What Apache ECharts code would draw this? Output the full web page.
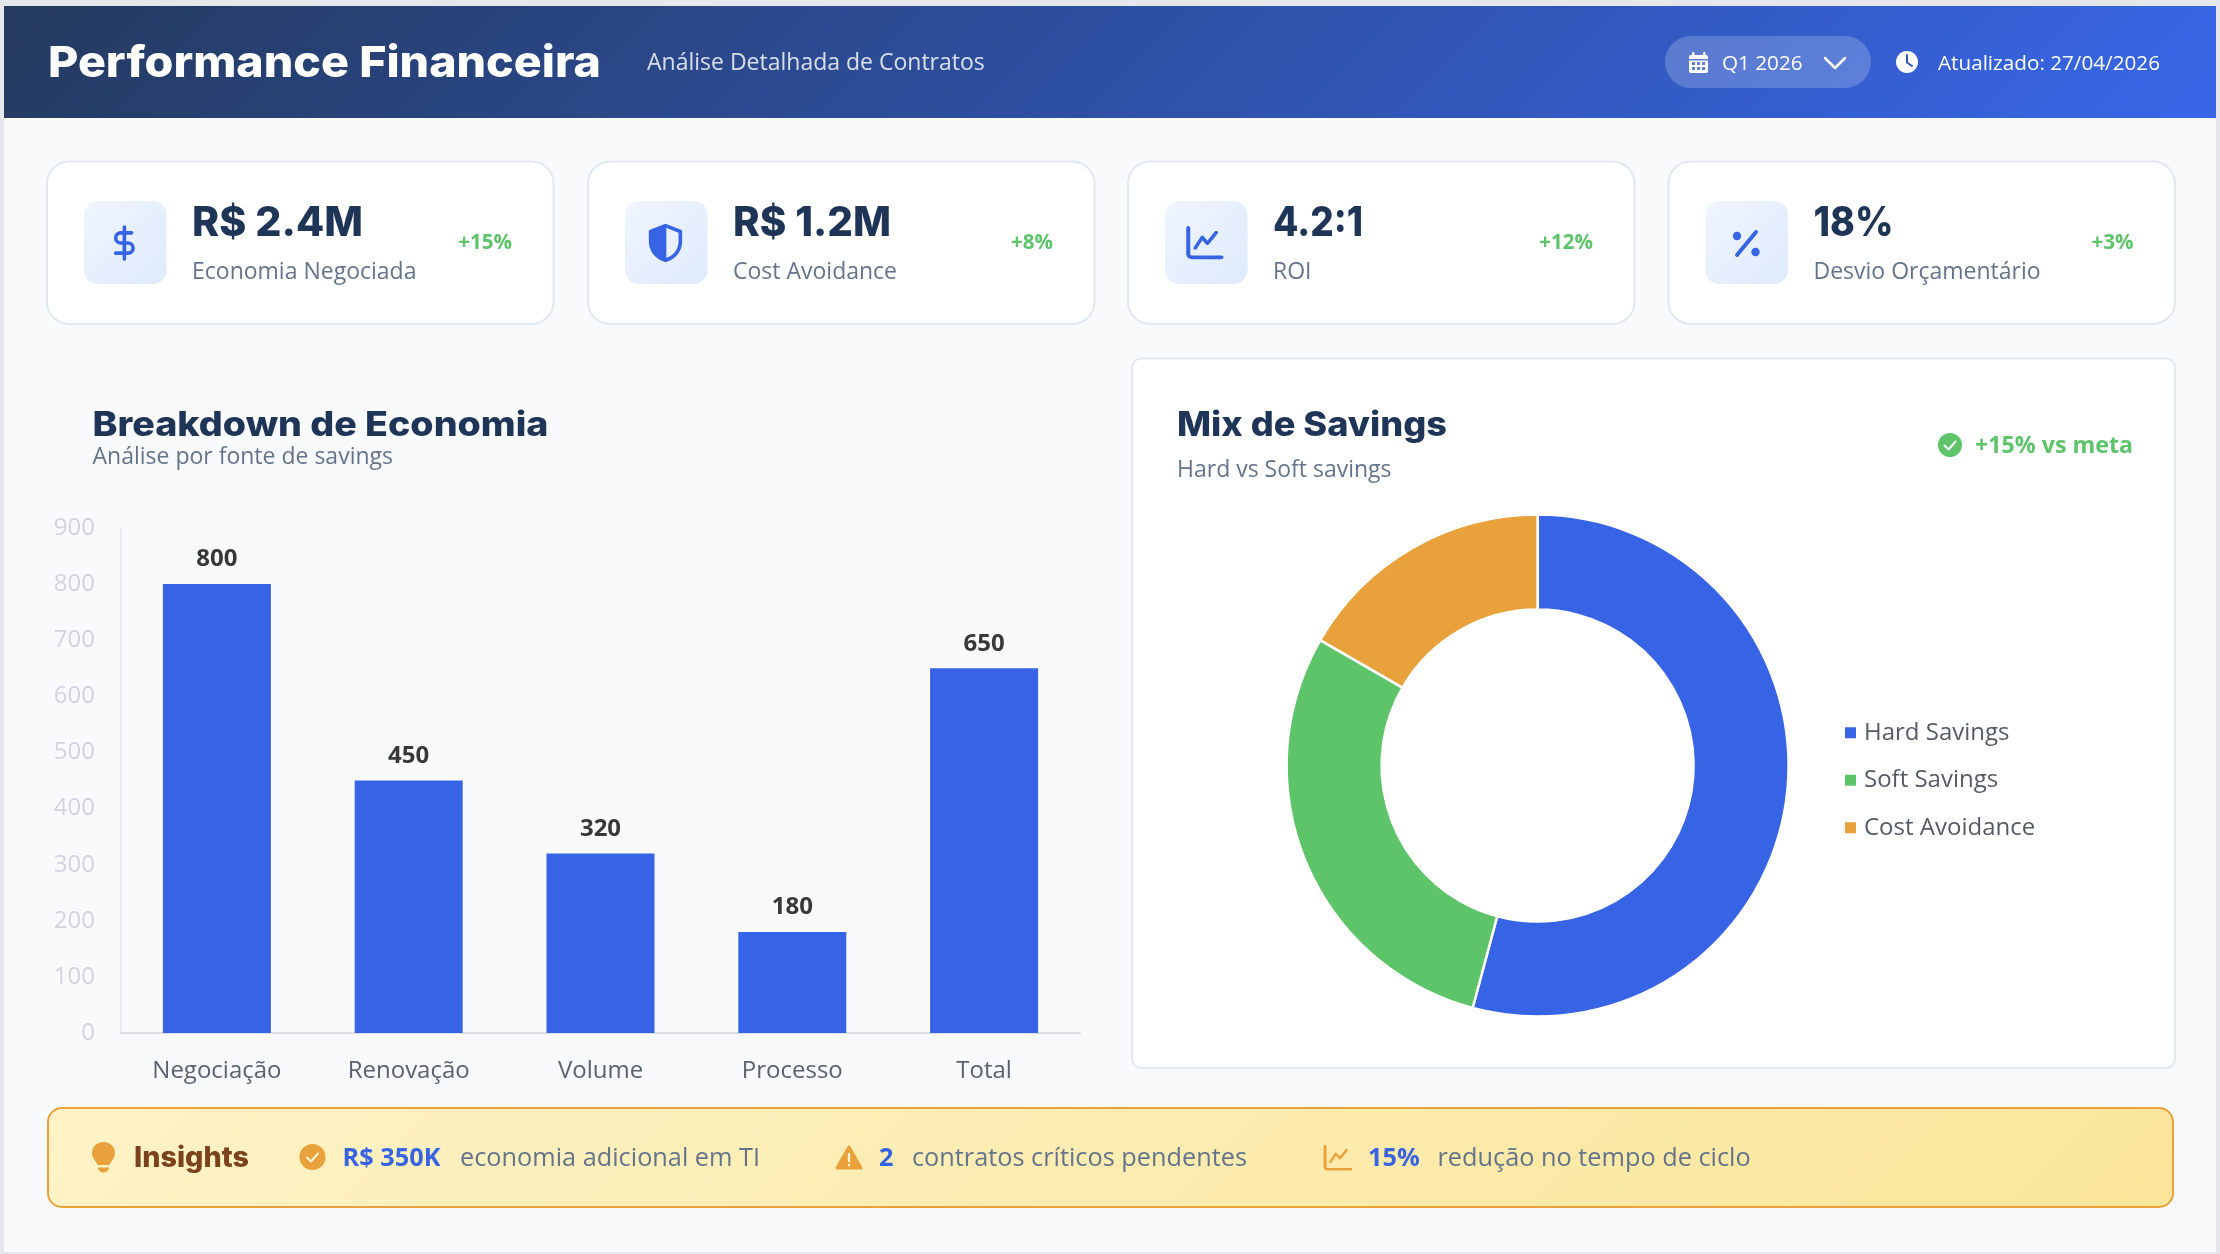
<!DOCTYPE html>
<html lang="pt-BR">
<head>
<meta charset="utf-8">
<title>Performance Financeira</title>
<style>html,body{margin:0;padding:0;background:#e6e7ea}#c{width:2220px;height:1254px}</style>
<script src="https://cdn.jsdelivr.net/npm/echarts@6/dist/echarts.min.js"></script>
</head>
<body>
<div id="c"></div>
<script>
// ---------- data ----------
const categories = ['Negociação', 'Renovação', 'Volume', 'Processo', 'Total'];
const savingsValues = [800, 450, 320, 180, 650];
const mixLabels = ['Hard Savings', 'Soft Savings', 'Cost Avoidance'];
const mixValues = [65, 35, 20];
const kpiValues = ['R$ 2.4M', 'R$ 1.2M', '4.2:1', '18%'];
const kpiLabels = ['Economia Negociada', 'Cost Avoidance', 'ROI', 'Desvio Orçamentário'];
const kpiDeltas = ['+15%', '+8%', '+12%', '+3%'];

// ---------- palette ----------
const BLUE = '#3763E5', GREEN = '#5EC46A', ORANGE = '#E9A23B', NAVY = '#1F3557', GREY = '#64748B';
const OS = '"Open Sans"', HEAD = 'Inter';

const mctx = document.createElement('canvas').getContext('2d');
function T(x, y, text, size, weight, fill, family, align, targetW) {
  const font = weight + ' ' + size + 'px ' + (family || OS);
  let sx = 1;
  if (targetW) { mctx.font = font; sx = targetW / mctx.measureText(text).width; }
  return { type: 'text', x: x, y: y, scaleX: sx, silent: true, style: {
    text: text, fill: fill, align: align || 'left', verticalAlign: 'middle', font: font } };
}
function R(x, y, w, h, r, fill, stroke, lw) {
  return { type: 'rect', silent: true, shape: { x: x, y: y, width: w, height: h, r: r },
    style: { fill: fill, stroke: stroke || null, lineWidth: lw || 0 } };
}
function C(cx, cy, r, fill) {
  return { type: 'circle', silent: true, shape: { cx: cx, cy: cy, r: r }, style: { fill: fill } };
}
let pathN = 0;
function P(d, x, y, s, style, sy) {
  const name = 'iconPath' + (pathN++);
  echarts.graphic.registerShape(name, echarts.graphic.extendPath(d));
  return { type: name, silent: true, x: x, y: y, scaleX: s, scaleY: sy || s, shape: {},
    style: Object.assign({ fill: null, lineCap: 'round', lineJoin: 'round' }, style) };
}
function grad(x, y, x2, y2, a, b, glob) {
  return { type: 'linear', x: x, y: y, x2: x2, y2: y2, global: !!glob,
    colorStops: [{ offset: 0, color: a }, { offset: 1, color: b }] };
}

const els = [];
// page
els.push(R(4, 6, 2212, 1246, 0, '#F9FAFC'));
// header
els.push(R(4, 6, 2212, 112, 0, grad(529, -519, 1691, 643, '#243A5E', '#3866E8', true)));
els.push(T(48, 64, 'Performance Financeira', 43, 800, '#FFFFFF', HEAD, 'left', 553));
els.push(T(647, 63, 'Análise Detalhada de Contratos', 23, 400, 'rgba(255,255,255,0.82)'));
els.push(R(1665, 36, 206, 52, 26, 'rgba(255,255,255,0.2)'));
// calendar icon
els.push(R(1689, 55, 19, 18, 2, '#FFFFFF'));
els.push(R(1692, 52, 2.5, 5, 1, '#FFFFFF'), R(1703, 52, 2.5, 5, 1, '#FFFFFF'));
els.push(R(1689, 59, 19, 1.5, 0, '#5F7ED6'));
[[1692, 62], [1697, 62], [1702, 62], [1692, 67], [1697, 67], [1702, 67]].forEach(function (p) {
  els.push(R(p[0], p[1], 3, 3, 0, '#5F7ED6'));
});
els.push(T(1722, 64, 'Q1 2026', 20.7, 400, '#FFFFFF'));
els.push(P('M1825 58L1835 68L1845 58', 0, 0, 1, { stroke: '#FFFFFF', lineWidth: 2.5 }));
// clock
els.push(C(1907, 62, 11, '#FFFFFF'));
els.push(P('M1907 55V62.5L1912 66', 0, 0, 1, { stroke: '#3158C4', lineWidth: 2 }));
els.push(T(1938, 64, 'Atualizado: 27/04/2026', 20.7, 400, '#FFFFFF'));

// KPI cards
const cardX = [47, 588, 1128, 1668.5];
const chartLine = 'M3 2V19a2 2 0 0 0 2 2H22';
const chartZig = 'M7 15L11 8L14 12L19 5';
const valW = [171, 158, 90, 80];
kpiValues.forEach(function (v, i) {
  const x = cardX[i];
  els.push(R(x, 161.5, 506.5, 162.5, 22, '#FFFFFF', '#E2E8F0', 2));
  els.push(R(x + 37, 201, 82.5, 83, 14, grad(0, 0, 1, 1, '#F0F5FE', '#DEEAFC')));
  els.push(T(x + 145, 224, v, 41, 800, NAVY, HEAD, 'left', valW[i]));
  els.push(T(x + 145, 272.5, kpiLabels[i], 23, 400, GREY));
  els.push(T(x + 465, 243, kpiDeltas[i], 20.5, 700, GREEN, OS, 'right'));
});
// KPI icons
els.push(P('M12 1v22M17 5H9.5a3.5 3.5 0 0 0 0 7h5a3.5 3.5 0 0 1 0 7H6', 107, 225.6, 1.45, { stroke: BLUE, lineWidth: 2.5 }));
els.push(P('M12 1.5L21 5V11C21 17 17 21 12 22.5C7 21 3 17 3 11V5Z', 645.7, 223.2, 1.65, { stroke: BLUE, lineWidth: 2.2, fill: '#EAF1FD' }));
els.push(P('M12 1.5L3 5V11C3 17 7 21 12 22.5Z', 645.7, 223.2, 1.65, { fill: BLUE, stroke: BLUE, lineWidth: 1 }));
els.push(P(chartLine, 1183, 224.8, 1.75, { stroke: BLUE, lineWidth: 2.3 }, 1.55));
els.push(P(chartZig, 1183, 224.8, 1.75, { stroke: BLUE, lineWidth: 2.1 }, 1.55));
els.push(P('M1756 232L1737 255', 0, 0, 1, { stroke: BLUE, lineWidth: 4 }));
els.push(C(1737, 236, 4.2, BLUE), C(1755.5, 252, 4.2, BLUE));

// left panel headings
els.push(T(92.5, 425.5, 'Breakdown de Economia', 34, 800, NAVY, HEAD, 'left', 456));
els.push(T(92.5, 457, 'Análise por fonte de savings', 23, 400, GREY));
// right panel
els.push(R(1132, 358.5, 1043, 709.5, 9, '#FFFFFF', '#E2E8F0', 2));
els.push(T(1177, 425.5, 'Mix de Savings', 34, 800, NAVY, HEAD, 'left', 270));
els.push(T(1177, 470, 'Hard vs Soft savings', 23, 400, GREY));
els.push(C(1950, 445, 12, GREEN));
els.push(P('M1944.5 445.5L1948.5 449.5L1955.5 441.5', 0, 0, 1, { stroke: '#FFFFFF', lineWidth: 2 }));
els.push(T(1975, 446, '+15% vs meta', 23.2, 700, GREEN));

// insights bar
els.push(R(48, 1108, 2125, 99, 14, grad(554, 601, 1666, 1713, '#FEF3C7', '#FAE59A', true), ORANGE, 2));
// bulb
els.push(P('M103.5 1142C96.5 1142 92 1147 92 1153C92 1158 96 1161 97.5 1165H109.5C111 1161 115 1158 115 1153C115 1147 110.5 1142 103.5 1142Z', 0, 0, 1, { fill: ORANGE }));
els.push(P('M98 1167.5H109C109 1170 107 1172.5 103.5 1172.5C100 1172.5 98 1170 98 1167.5Z', 0, 0, 1, { fill: ORANGE }));
els.push(T(134, 1159, 'Insights', 28, 800, '#7C421C', HEAD, 'left', 115));
// check
els.push(C(312.5, 1157, 13, ORANGE));
els.push(P('M307 1157.5L311 1161.5L318 1153.5', 0, 0, 1, { stroke: '#FFF4D6', lineWidth: 2 }));
els.push(T(342.5, 1158.5, 'R$ 350K', 25.3, 700, BLUE));
els.push(T(460, 1158.5, 'economia adicional em TI', 25.3, 400, GREY));
// warning
els.push(P('M849 1147L861 1168H837Z', 0, 0, 1, { fill: ORANGE, stroke: ORANGE, lineWidth: 3 }));
els.push(P('M849 1154V1161M849 1165V1165.2', 0, 0, 1, { stroke: '#FFF4D6', lineWidth: 2.4 }));
els.push(T(879, 1158.5, '2', 25.3, 700, BLUE));
els.push(T(912, 1158.5, 'contratos críticos pendentes', 25.3, 400, GREY));
// trend
els.push(P(chartLine, 1321, 1144, 1.35, { stroke: ORANGE, lineWidth: 2.2 }, 1.2));
els.push(P(chartZig, 1321, 1144, 1.35, { stroke: ORANGE, lineWidth: 1.8 }, 1.2));
els.push(T(1368, 1158.5, '15%', 25.3, 700, BLUE));
els.push(T(1437.5, 1158.5, 'redução no tempo de ciclo', 25.3, 400, GREY));

const chart = echarts.init(document.getElementById('c'), null, { renderer: 'canvas', width: 2220, height: 1254 });
chart.setOption({
  animation: false,
  backgroundColor: 'transparent',
  textStyle: { fontFamily: OS },
  graphic: { elements: els },
  grid: { left: 121, top: 528, width: 959, height: 505, containLabel: false },
  xAxis: {
    type: 'category', data: categories,
    axisTick: { show: false },
    axisLine: { lineStyle: { color: '#DADDE3', width: 2 } },
    axisLabel: { color: '#5A6270', fontSize: 24, margin: 26, fontFamily: OS }
  },
  yAxis: {
    type: 'value', min: 0, max: 900, interval: 100,
    axisLine: { show: true, lineStyle: { color: '#E3E5EA', width: 1.5 } },
    axisTick: { show: false },
    splitLine: { show: false },
    axisLabel: { color: '#D1D4DA', fontSize: 24, margin: 26, fontFamily: OS }
  },
  legend: {
    orient: 'vertical', left: 1843, top: 716, padding: 0, itemWidth: 13, itemHeight: 13, itemGap: 14,
    icon: 'rect', data: mixLabels,
    textStyle: { color: '#555B66', fontSize: 24, fontFamily: OS, padding: [0, 0, 0, 2], lineHeight: 33.5 }
  },
  series: [
    {
      type: 'bar', data: savingsValues, barWidth: 108,
      itemStyle: { color: BLUE },
      label: { show: true, position: 'top', distance: 12.5, color: '#383838', fontSize: 24, fontWeight: 700, fontFamily: OS }
    },
    {
      type: 'pie', center: [1537.6, 765.6], radius: [156, 251], startAngle: 90, clockwise: true,
      label: { show: false }, labelLine: { show: false },
      itemStyle: { borderColor: '#FFFFFF', borderWidth: 2.5 },
      color: [BLUE, GREEN, ORANGE],
      data: mixLabels.map(function (n, i) { return { name: n, value: mixValues[i] }; })
    }
  ]
});
</script>
</body>
</html>
